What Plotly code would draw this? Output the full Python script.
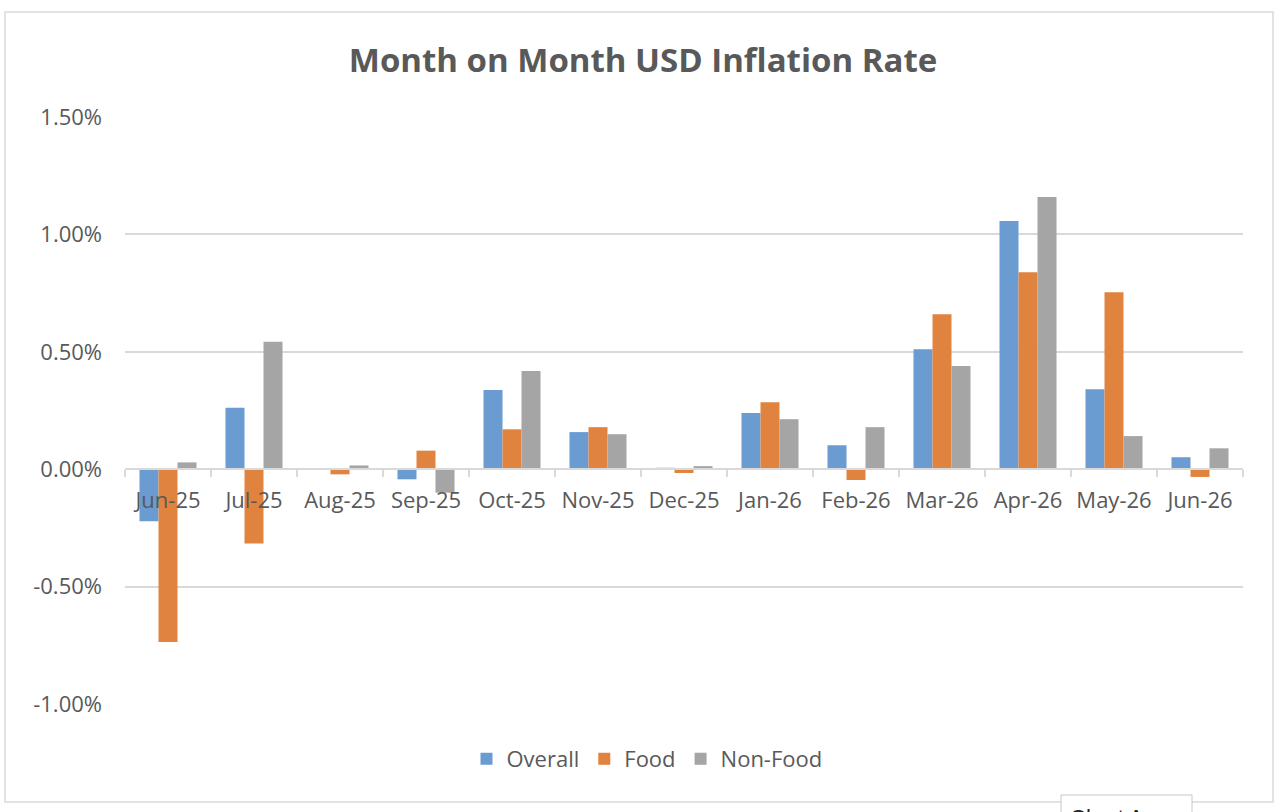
import plotly.graph_objects as go

months = ["Jun-25", "Jul-25", "Aug-25", "Sep-25", "Oct-25", "Nov-25", "Dec-25",
          "Jan-26", "Feb-26", "Mar-26", "Apr-26", "May-26", "Jun-26"]
overall = [-0.222, 0.262, 0.000, -0.043, 0.337, 0.158, 0.006, 0.239, 0.102, 0.511, 1.057, 0.341, 0.051]
food = [-0.736, -0.316, -0.022, 0.079, 0.170, 0.179, -0.016, 0.285, -0.046, 0.660, 0.839, 0.754, -0.033]
non_food = [0.029, 0.543, 0.016, -0.100, 0.418, 0.149, 0.013, 0.213, 0.179, 0.439, 1.159, 0.141, 0.089]

series_names = ["Overall", "Food", "Non-Food"]
series_colors = ["#6A9BD1", "#E0833F", "#A5A5A5"]

y_ticks = [-1.0, -0.5, 0.0, 0.5, 1.0, 1.5]
y_ticktext = ["-1.00%", "-0.50%", "0.00%", "0.50%", "1.00%", "1.50%"]

FONT = "Open Sans"
TXT = "#595959"
GRID = "#D9D9D9"

fig = go.Figure()
for name, vals, col in zip(series_names, [overall, food, non_food], series_colors):
    fig.add_trace(go.Bar(x=months, y=vals, name=name, marker=dict(color=col, line=dict(width=0))))

W, H = 1286, 812
L, R, T, B = 125, 43, 117, 108
pw, ph = W - L - R, H - T - B

def px_x(x):
    return (x - L) / pw

def px_y(y):
    return (H - B - y) / ph

fig.update_layout(
    width=W, height=H,
    margin=dict(l=L, r=R, t=T, b=B),
    paper_bgcolor="white", plot_bgcolor="white",
    barmode="group", bargap=0.337, bargroupgap=0,
    font=dict(family=FONT, color=TXT, size=22),
    title=dict(text="<b>Month on Month USD Inflation Rate</b>", x=643 / W, xanchor="center",
               y=1 - 60 / H, yanchor="middle", font=dict(family=FONT, size=33, color=TXT)),
    showlegend=True,
    legend=dict(orientation="h", x=px_x(647), xanchor="center", y=px_y(759), yanchor="middle",
                font=dict(family=FONT, size=22, color=TXT), traceorder="normal",
                itemwidth=30, bgcolor="rgba(0,0,0,0)"),
    xaxis=dict(type="category", anchor="free", position=0.4, showline=True, linecolor=GRID, linewidth=2,
               ticks="outside", tickson="boundaries", ticklen=7, tickwidth=2, tickcolor=GRID,
               showgrid=False, zeroline=False, tickfont=dict(family=FONT, size=22, color=TXT),
               ticklabelstandoff=11, layer="above traces"),
    yaxis=dict(range=[-1.0, 1.5], tickvals=y_ticks, ticktext=y_ticktext, showgrid=True,
               gridcolor=GRID, gridwidth=2, zeroline=False, showline=False, ticks="",
               tickfont=dict(family=FONT, size=22, color=TXT), ticklabelstandoff=22),
    shapes=[
        dict(type="rect", xref="paper", yref="paper", x0=px_x(5), x1=px_x(1273), y0=px_y(802), y1=px_y(12),
             line=dict(color=GRID, width=1.5), fillcolor="rgba(0,0,0,0)", layer="below"),
        dict(type="rect", xref="paper", yref="paper", x0=px_x(1061), x1=px_x(1192), y0=px_y(830), y1=px_y(795),
             line=dict(color="#C8C8C8", width=1), fillcolor="white", layer="above"),
    ],
    annotations=[
        dict(text="Chart Area", xref="paper", yref="paper", x=px_x(1068), y=px_y(817), xanchor="left",
             yanchor="middle", showarrow=False, font=dict(family="Liberation Sans", size=22, color="#222222")),
    ],
)

fig.write_html("out.html")
